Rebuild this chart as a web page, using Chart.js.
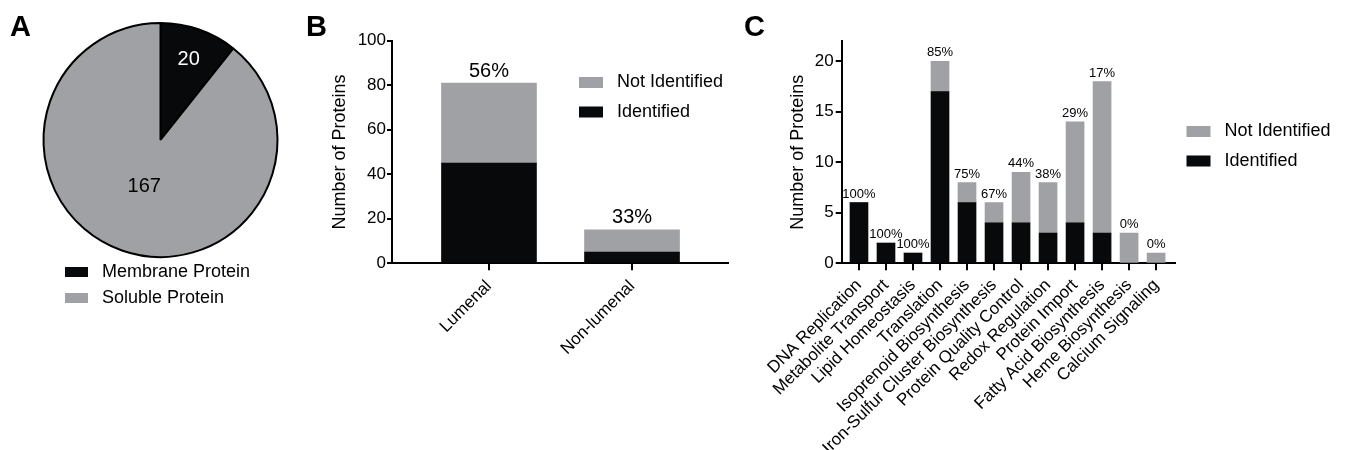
<!DOCTYPE html>
<html>
<head>
<meta charset="utf-8">
<script src="https://cdn.jsdelivr.net/npm/chart.js@4"></script>
<style>
  body { margin: 0; width: 1350px; height: 450px; overflow: hidden; background: #fff; position: relative; font-family: "Liberation Sans", Arial, sans-serif; }
  canvas { position: absolute; top: 0; }
  .letter { position: absolute; font-weight: bold; font-size: 29px; line-height: 29px; color: #000; }
</style>
</head>
<body>
<canvas id="pieA" width="321" height="330" style="left:0px"></canvas>
<canvas id="barB" width="440" height="450" style="left:300px"></canvas>
<canvas id="barC" width="590" height="450" style="left:760px"></canvas>
<div class="letter" style="left:10px;top:12px">A</div>
<div class="letter" style="left:306px;top:12px">B</div>
<div class="letter" style="left:744px;top:12px">C</div>
<script>
// panel A
const pieLabels = ['Membrane Protein', 'Soluble Protein'];
const pieValues = [20, 167];

// panel B
const catsB = ['Lumenal', 'Non-lumenal'];
const identB = [45, 5];
const notIdentB = [36, 10];
const pctB = ['56%', '33%'];
const yTicksB = [0, 20, 40, 60, 80, 100];

// panel C
const catsC = ['DNA Replication', 'Metabolite Transport', 'Lipid Homeostasis', 'Translation',
  'Isoprenoid Biosynthesis', 'Iron-Sulfur Cluster Biosynthesis', 'Protein Quality Control',
  'Redox Regulation', 'Protein Import', 'Fatty Acid Biosynthesis', 'Heme Biosynthesis', 'Calcium Signaling'];
const identC = [6, 2, 1, 17, 6, 4, 4, 3, 4, 3, 0, 0];
const notIdentC = [0, 0, 0, 3, 2, 2, 5, 5, 10, 15, 3, 1];
const pctC = ['100%', '100%', '100%', '85%', '75%', '67%', '44%', '38%', '29%', '17%', '0%', '0%'];
const yTicksC = [0, 5, 10, 15, 20];

const black = '#07090a';
const grey = '#a0a1a4';
const FONT = '"Liberation Sans", Arial, sans-serif';

Chart.defaults.font.family = FONT;
Chart.defaults.color = '#000';

// numbers inside the pie
const pieText = {
  id: 'pieText',
  afterDatasetsDraw(chart) {
    const ctx = chart.ctx;
    const dist = [0.73, 0.42];
    const colors = ['#fff', '#000'];
    ctx.save();
    ctx.font = '20px ' + FONT;
    ctx.textAlign = 'center';
    ctx.textBaseline = 'middle';
    chart.getDatasetMeta(0).data.forEach((arc, i) => {
      const mid = (arc.startAngle + arc.endAngle) / 2;
      const r = arc.outerRadius * dist[i];
      ctx.fillStyle = colors[i];
      ctx.fillText(String(pieValues[i]), arc.x + Math.cos(mid) * r, arc.y + Math.sin(mid) * r);
    });
    ctx.restore();
  }
};

// percentage on top of each stacked bar
function pctLabels(texts, size, gap) {
  return {
    id: 'pctLabels',
    afterDatasetsDraw(chart) {
      const ctx = chart.ctx;
      const bars = chart.getDatasetMeta(chart.data.datasets.length - 1).data;
      ctx.save();
      ctx.font = size + 'px ' + FONT;
      ctx.fillStyle = '#000';
      ctx.textAlign = 'center';
      ctx.textBaseline = 'bottom';
      bars.forEach((bar, i) => ctx.fillText(texts[i], bar.x, bar.y - gap));
      ctx.restore();
    }
  };
}

// box legend, top entry = last dataset (like the stacks)
function boxLegend(x, y0, step) {
  return {
    id: 'boxLegend',
    afterDraw(chart) {
      const ctx = chart.ctx;
      const items = chart.data.datasets.slice().reverse();
      ctx.save();
      ctx.font = '18px ' + FONT;
      ctx.textBaseline = 'middle';
      items.forEach((ds, k) => {
        const y = y0 + k * step;
        ctx.fillStyle = ds.backgroundColor;
        ctx.fillRect(x, y - 5.5, 24, 11);
        ctx.fillStyle = '#000';
        ctx.fillText(ds.label, x + 38, y);
      });
      ctx.restore();
    }
  };
}

function axisLook(tickLen) {
  return {
    offset: false,
    grid: { offset: false, drawOnChartArea: false, drawTicks: true, tickLength: tickLen, color: '#000', lineWidth: 2 },
    border: { display: true, color: '#000', width: 2 }
  };
}

new Chart(document.getElementById('pieA'), {
  type: 'pie',
  data: {
    labels: pieLabels,
    datasets: [{
      data: pieValues,
      backgroundColor: [black, grey],
      borderColor: '#000',
      borderWidth: 2,
      radius: 117,
      clip: false
    }]
  },
  options: {
    responsive: false,
    animation: false,
    layout: { padding: { left: 57, right: 57, top: 25, bottom: 13 } },
    plugins: {
      legend: {
        position: 'bottom',
        align: 'start',
        labels: {
          boxWidth: 23, boxHeight: 10, padding: 8, font: { size: 18 }, color: '#000',
          generateLabels: () => pieLabels.map((t, i) => ({
            text: ' ' + t, fillStyle: [black, grey][i], strokeStyle: [black, grey][i], lineWidth: 0, hidden: false, index: i
          }))
        }
      },
      tooltip: { enabled: false }
    }
  },
  plugins: [pieText]
});

new Chart(document.getElementById('barB'), {
  type: 'bar',
  data: {
    datasets: [
      { label: 'Identified', data: identB.map((v, i) => ({ x: i, y: v })), backgroundColor: black, barThickness: 95 },
      { label: 'Not Identified', data: notIdentB.map((v, i) => ({ x: i, y: v })), backgroundColor: grey, barThickness: 95 }
    ]
  },
  options: {
    responsive: false,
    animation: false,
    layout: { padding: { left: 0, right: 12, top: 40.7, bottom: 0 } },
    scales: {
      x: {
        type: 'linear', stacked: true, min: -0.678, max: 1.671,
        afterBuildTicks: s => { s.ticks = catsB.map((c, i) => ({ value: i })); },
        afterFit: s => { s.height = 186.7; },
        ...axisLook(7),
        ticks: { callback: v => catsB[v], minRotation: 45, maxRotation: 45, autoSkip: false, font: { size: 17 }, color: '#000', padding: 6 }
      },
      y: {
        stacked: true, min: 0, max: 100,
        afterBuildTicks: s => { s.ticks = yTicksB.map(v => ({ value: v })); },
        afterFit: s => { s.width = 92; },
        ...axisLook(5),
        ticks: { font: { size: 17 }, color: '#000', padding: 1 },
        title: { display: true, text: 'Number of Proteins', font: { size: 18 }, color: '#000', padding: { top: 29, bottom: 0 } }
      }
    },
    plugins: { legend: { display: false }, tooltip: { enabled: false } }
  },
  plugins: [pctLabels(pctB, 20, 2), boxLegend(279, 82.5, 29.5)]
});

new Chart(document.getElementById('barC'), {
  type: 'bar',
  data: {
    datasets: [
      { label: 'Identified', data: identC.map((v, i) => ({ x: i, y: v })), backgroundColor: black, barThickness: 18 },
      { label: 'Not Identified', data: notIdentC.map((v, i) => ({ x: i, y: v })), backgroundColor: grey, barThickness: 18 }
    ]
  },
  options: {
    responsive: false,
    animation: false,
    layout: { padding: { left: 0, right: 175, top: 41.1, bottom: 0 } },
    scales: {
      x: {
        type: 'linear', stacked: true, min: -0.64, max: 11.70,
        afterBuildTicks: s => { s.ticks = catsC.map((c, i) => ({ value: i })); },
        afterFit: s => { s.height = 186.7; },
        ...axisLook(7),
        ticks: { callback: v => catsC[v], minRotation: 45, maxRotation: 45, autoSkip: false, font: { size: 17 }, color: '#000', padding: 5 }
      },
      y: {
        stacked: true, min: 0, max: 22,
        afterBuildTicks: s => { s.ticks = yTicksC.map(v => ({ value: v })); },
        afterFit: s => { s.width = 81.7; },
        ...axisLook(6),
        ticks: { font: { size: 17 }, color: '#000', padding: 2 },
        title: { display: true, text: 'Number of Proteins', font: { size: 18 }, color: '#000', padding: { top: 27, bottom: 0 } }
      }
    },
    plugins: { legend: { display: false }, tooltip: { enabled: false } }
  },
  plugins: [pctLabels(pctC, 13, 2), boxLegend(426.5, 131.5, 29.5)]
});
</script>
</body>
</html>
